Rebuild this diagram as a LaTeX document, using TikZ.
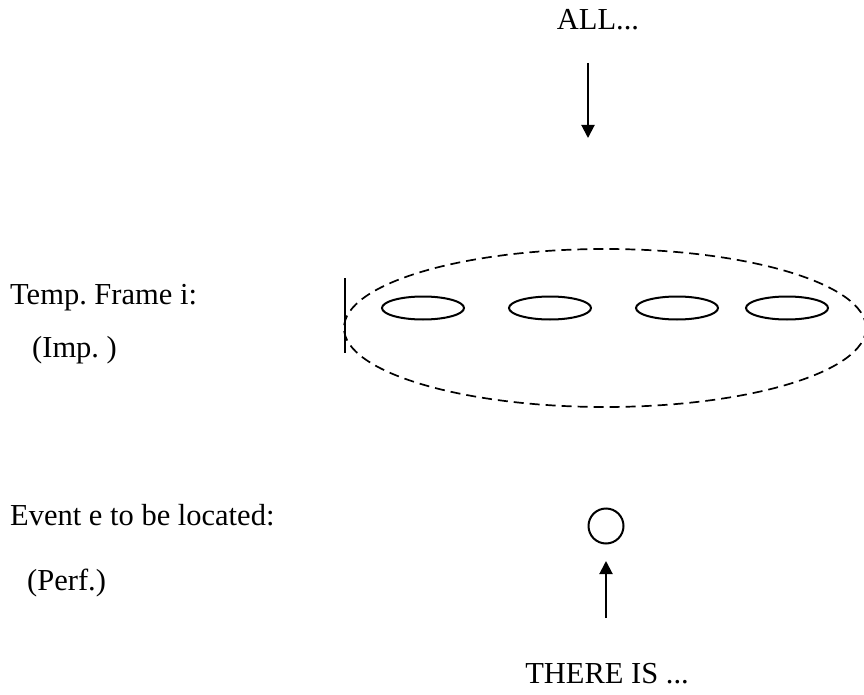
\documentclass[tikz,border=0pt]{standalone}
\usepackage{fontspec}
\setmainfont{Liberation Serif}
\usetikzlibrary{arrows.meta}
\frenchspacing
\begin{document}
\begin{tikzpicture}[x=1pt,y=-1pt,
  lbl/.style={inner sep=0pt,anchor=base west,font=\fontsize{30.5}{36}\selectfont},
  clbl/.style={inner sep=0pt,anchor=base,font=\fontsize{30.5}{36}\selectfont},
  arr/.style={line width=2pt,-{Triangle[length=13pt,width=13pt]}},
  frame/.style={draw,line width=1.7pt,dash pattern=on 10pt off 6pt}]
\useasboundingbox (0,0) rectangle (864,695);
\node[clbl] (all) at (598,30) {ALL...};
\coordinate (dtop) at (588,63);
\coordinate (dbot) at (588,138);
\draw[arr] (dtop) -- (dbot);
\node[lbl] (tf) at (10,304) {Temp. Frame i:};
\node[lbl] (imp) at (32,357) {(Imp. )};
\draw[frame] (605,328) ellipse [x radius=261, y radius=79];
\coordinate (bart) at (345,278);
\coordinate (barb) at (345,353);
\draw[line width=2.5pt] (bart) -- (barb);
\draw[line width=2pt] (423,308) ellipse [x radius=41, y radius=11.5];
\draw[line width=2pt] (550,308) ellipse [x radius=41, y radius=11.5];
\draw[line width=2pt] (677,308) ellipse [x radius=41, y radius=11.5];
\draw[line width=2pt] (787,308) ellipse [x radius=41, y radius=11.5];
\node[lbl] (ev) at (10,525) {Event e to be located:};
\node[lbl] (perf) at (27,590) {(Perf.)};
\node[draw,circle,line width=2pt,minimum size=35pt,inner sep=0pt] (e) at (606,526) {};
\coordinate (ubot) at (606,618);
\coordinate (utop) at (606,561);
\draw[arr] (ubot) -- (utop);
\node[clbl] (there) at (607,683) {THERE IS ...};
\end{tikzpicture}
\end{document}
